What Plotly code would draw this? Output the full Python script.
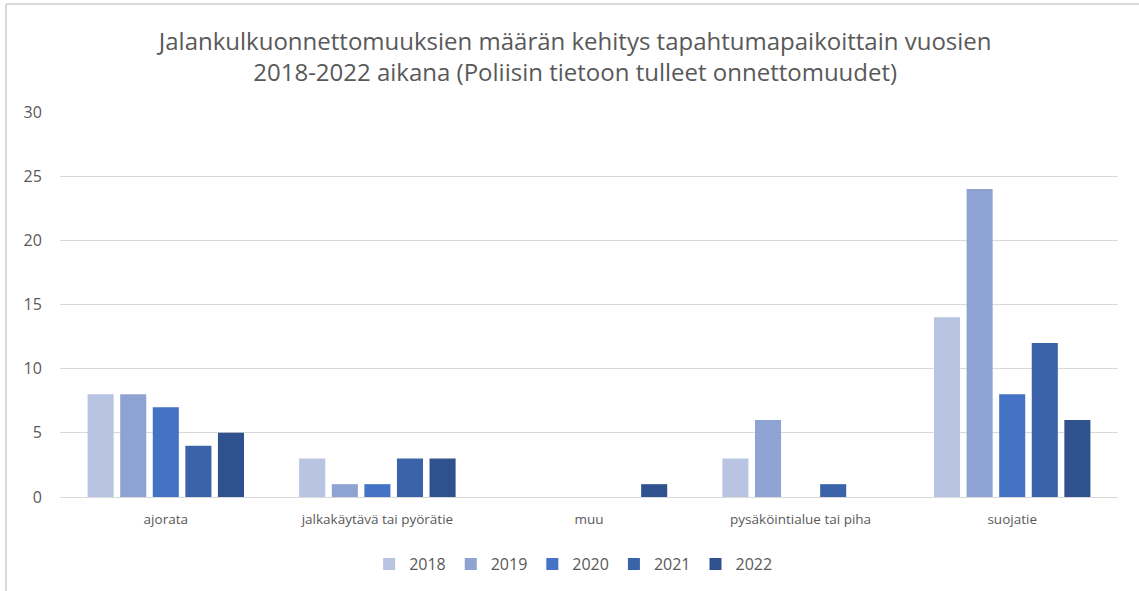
import plotly.graph_objects as go

categories = ["ajorata", "jalkakäytävä tai pyörätie", "muu", "pysäköintialue tai piha", "suojatie"]
years = ["2018", "2019", "2020", "2021", "2022"]
v2018 = [8, 3, 0, 3, 14]
v2019 = [8, 1, 0, 6, 24]
v2020 = [7, 1, 0, 0, 8]
v2021 = [4, 3, 0, 1, 12]
v2022 = [5, 3, 1, 0, 6]
series = [v2018, v2019, v2020, v2021, v2022]
colors = ["#B9C3E2", "#8FA3D3", "#4472C4", "#3A63AA", "#2F528F"]

W, H = 1139, 591
ml, mr, mt, mb = 60, 21, 112, 94
pw, ph = W - ml - mr, H - mt - mb

fig = go.Figure()
for y, vals, c in zip(years, series, colors):
    fig.add_trace(go.Bar(name=y, x=categories, y=vals, marker=dict(color=c, line=dict(width=0))))

fig.update_layout(
    width=W, height=H,
    margin=dict(l=ml, r=mr, t=mt, b=mb, autoexpand=False),
    paper_bgcolor="white", plot_bgcolor="white",
    barmode="group", bargap=0.23, bargroupgap=0.2,
    font=dict(family="Open Sans, Noto Sans, sans-serif", color="#595959"),
    title=dict(text="Jalankulkuonnettomuuksien määrän kehitys tapahtumapaikoittain vuosien<br>2018-2022 aikana (Poliisin tietoon tulleet onnettomuudet)",
               x=0.505, xanchor="center", y=1 - 50 / H, yanchor="middle",
               font=dict(size=24, color="#595959")),
    legend=dict(orientation="h", x=0.485, xanchor="center", y=-(564 - 497) / ph, yanchor="middle",
                font=dict(size=16, color="#595959"), itemwidth=30, traceorder="normal"),
    yaxis=dict(range=[0, 30], dtick=5, showgrid=True, gridcolor="#D9D9D9", gridwidth=1,
               zeroline=True, zerolinecolor="#D9D9D9", zerolinewidth=1, showline=False,
               tickfont=dict(size=16, color="#595959"), ticks="outside", ticklen=14,
               tickcolor="rgba(0,0,0,0)"),
    xaxis=dict(showline=False, tickfont=dict(size=13.5, color="#595959"), ticks="outside",
               ticklen=10, tickcolor="rgba(0,0,0,0)"),
    shapes=[
        dict(type="line", xref="paper", yref="paper", x0=-(ml - 6) / pw, x1=(W - ml) / pw,
             y0=1 + (mt - 4) / ph, y1=1 + (mt - 4) / ph, line=dict(color="#D9D9D9", width=2)),
        dict(type="line", xref="paper", yref="paper", x0=-(ml - 6) / pw, x1=-(ml - 6) / pw,
             y0=1 + (mt - 4) / ph, y1=-mb / ph, line=dict(color="#D9D9D9", width=2)),
    ],
)
fig.write_html("out.html", config={"displayModeBar": False},
               post_script="document.body.style.margin='0';")
